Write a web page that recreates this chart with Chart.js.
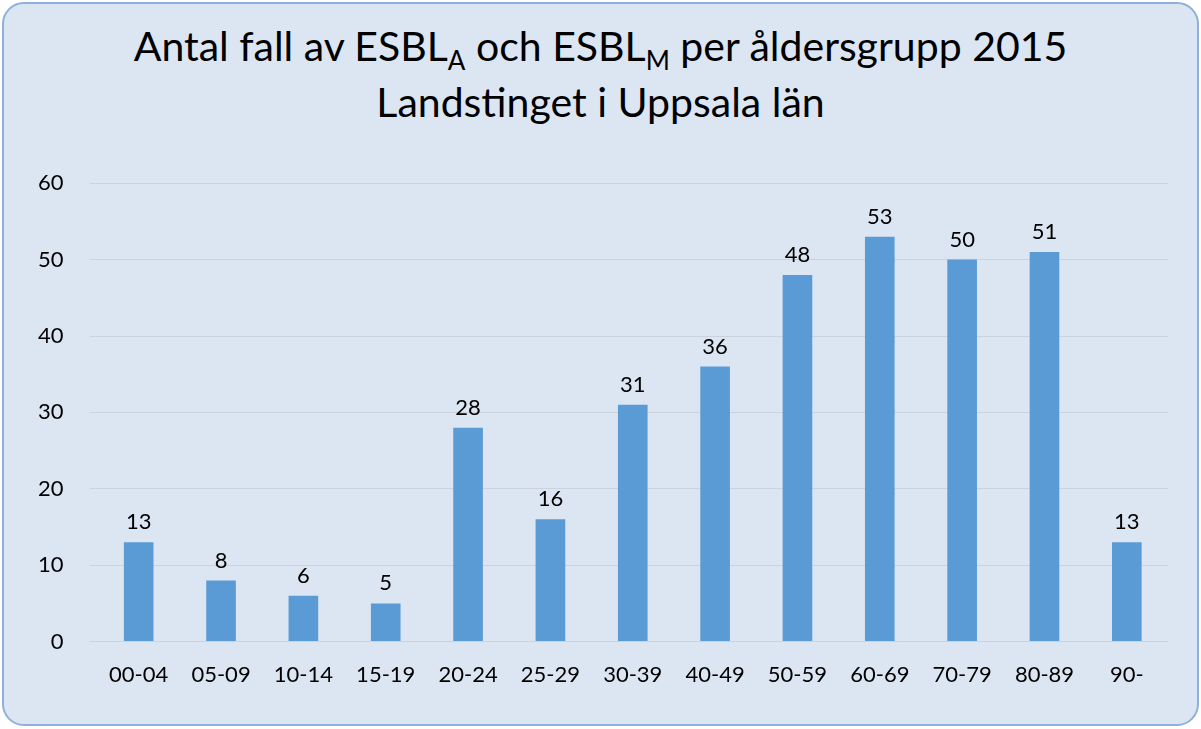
<!DOCTYPE html>
<html><head><meta charset="utf-8">
<script src="https://cdn.jsdelivr.net/npm/chart.js@4/dist/chart.umd.min.js"></script>
<style>
html,body{margin:0;padding:0;width:1201px;height:729px;background:#fff;overflow:hidden}
#box{position:absolute;left:2px;top:2px;width:1193px;height:720px;border:2px solid #8eb0da;border-radius:22px;background:#dce6f3}
#title{position:absolute;left:0;top:14px;width:100%;text-align:center;font-family:Lato,"Open Sans",sans-serif;font-size:41px;line-height:56px;color:#000}
#title sub{font-size:26px;vertical-align:-9px;line-height:0}
#wrap{position:absolute;left:8px;top:140px;width:1170px;height:570px}
</style></head><body>
<div id="box">
<div id="title">Antal fall av ESBL<sub>A</sub> och ESBL<sub>M</sub> per åldersgrupp 2015<br>Landstinget i Uppsala län</div>
<div id="wrap"><canvas id="c"></canvas></div>
</div>
<script>
const categories=["00-04","05-09","10-14","15-19","20-24","25-29","30-39","40-49","50-59","60-69","70-79","80-89","90-"];
const values=[13,8,6,5,28,16,31,36,48,53,50,51,13];
const yTicks=[0,10,20,30,40,50,60];
const F='Lato, "Open Sans", sans-serif';
const labelPlugin={id:'lbl',afterDatasetsDraw(ch){const c=ch.ctx;const m=ch.getDatasetMeta(0);c.save();c.font='22px '+F;c.fillStyle='#000';c.textAlign='center';c.textBaseline='bottom';
m.data.forEach((b,i)=>c.fillText(values[i],b.x,b.y-9));c.restore();}};
new Chart(document.getElementById('c'),{type:'bar',
data:{labels:categories,datasets:[{data:values,backgroundColor:'#5b9bd5',barPercentage:0.36,categoryPercentage:1}]},
options:{responsive:true,maintainAspectRatio:false,animation:false,
layout:{padding:{top:20,right:14,left:0,bottom:14}},
plugins:{legend:{display:false},tooltip:{enabled:false}},
scales:{x:{grid:{display:false},border:{display:false},ticks:{color:'#000',font:{size:22,family:F},padding:12}},
y:{min:0,max:60,afterBuildTicks(a){a.ticks=yTicks.map(v=>({value:v}));},grid:{color:'#c9d2de'},border:{display:false},ticks:{color:'#000',padding:26,font:{size:22,family:F}}}}},
plugins:[labelPlugin]});
</script></body></html>
